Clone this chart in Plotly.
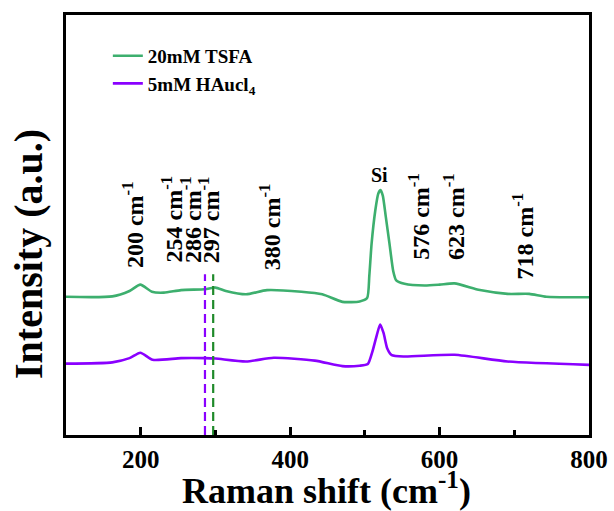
import plotly.graph_objects as go

# ---- data ----
wn_tsfa = [100, 162, 185, 199.5, 215, 231, 254, 286, 300, 314, 341, 369, 415, 443, 470, 493,
           503, 506, 509, 514, 518, 521, 524, 528, 533, 538, 542, 553, 580, 600, 620, 654,
           691, 720, 743, 800]
int_tsfa = [32.9, 33.0, 34.3, 35.8, 34.1, 33.9, 34.5, 34.7, 35.1, 34.3, 33.5, 34.5, 34.1, 33.5, 31.7, 31.8,
            32.6, 38.0, 45.5, 53.5, 57.5, 58.3, 57.0, 52.0, 45.5, 39.0, 36.8, 36.0, 35.6, 35.8, 36.1, 34.5,
            33.6, 33.6, 32.9, 32.8]

wn_hau = [100, 162, 185, 199.5, 216, 254, 286, 300, 341, 378, 433, 470, 493, 504, 510, 516,
          520.5, 525, 530, 536, 553, 620, 691, 800]
int_hau = [17.0, 17.3, 18.3, 19.6, 17.9, 18.3, 18.3, 18.2, 17.5, 18.4, 17.7, 16.4, 16.5, 16.9, 19.8, 23.8,
           26.3, 24.3, 20.6, 19.0, 18.7, 19.1, 17.5, 16.7]

series_names = ["20mM TSFA", "5mM HAucl<sub>4</sub>"]
series_colors = ["#3DAF6E", "#8A00FF"]

ref_lines_wn = [286, 297]
ref_lines_colors = ["#8A00FF", "#1F8A2A"]
ref_line_top = 38.3

peak_labels = ["200 cm<sup>-1</sup>", "254 cm<sup>-1</sup>", "286 cm<sup>-1</sup>", "297 cm<sup>-1</sup>",
               "380 cm<sup>-1</sup>", "576 cm<sup>-1</sup>", "623 cm<sup>-1</sup>", "718 cm<sup>-1</sup>"]
peak_label_x = [190.5, 242, 268, 292.5, 372.5, 573, 620, 712]
peak_label_base = [39.3, 40.5, 40.5, 40.5, 38.8, 41.2, 41.2, 36.5]

si_label = "Si"
si_x = 520
si_y = 61.9

x_title = "Raman shift (cm<sup>-1</sup>)"
y_title = "Intensity (a.u.)"

x_ticks = [200, 400, 600, 800]
x_minor_ticks = [300, 500, 700]
x_range = [100, 800]
y_range = [0, 100]

FONT = "Liberation Serif, Times New Roman, serif"

fig = go.Figure()

fig.add_trace(go.Scatter(x=wn_tsfa, y=int_tsfa, mode="lines", name=series_names[0],
                         line=dict(color=series_colors[0], width=2.6, shape="spline", smoothing=0.6)))
fig.add_trace(go.Scatter(x=wn_hau, y=int_hau, mode="lines", name=series_names[1],
                         line=dict(color=series_colors[1], width=2.6, shape="spline", smoothing=0.6)))

for xv, col in zip(ref_lines_wn, ref_lines_colors):
    fig.add_trace(go.Scatter(x=[xv, xv], y=[y_range[0], ref_line_top], mode="lines", showlegend=False,
                             hoverinfo="skip", line=dict(color=col, width=2.2, dash="9px,5px")))

for txt, xv, yv in zip(peak_labels, peak_label_x, peak_label_base):
    fig.add_annotation(x=xv, y=yv, xref="x", yref="y", text="<b>" + txt + "</b>", showarrow=False,
                       textangle=-90, xanchor="center", yanchor="bottom",
                       font=dict(family=FONT, size=24, color="black"))

fig.add_annotation(x=si_x, y=si_y, xref="x", yref="y", text="<b>" + si_label + "</b>", showarrow=False,
                   xanchor="center", yanchor="middle", font=dict(family=FONT, size=20, color="black"))

# axis titles
fig.add_annotation(x=0.499, y=-0.128, xref="paper", yref="paper", text="<b>" + x_title + "</b>",
                   showarrow=False, xanchor="center", yanchor="middle",
                   font=dict(family=FONT, size=36, color="black"))
fig.add_annotation(x=-0.0716, y=0.43, xref="paper", yref="paper", text="<b>" + y_title + "</b>",
                   showarrow=False, xanchor="center", yanchor="middle", textangle=-90,
                   font=dict(family=FONT, size=40, color="black"))

fig.update_layout(
    width=614, height=511,
    margin=dict(l=65.5, r=24.5, t=15, b=76, autoexpand=False),
    paper_bgcolor="white", plot_bgcolor="white",
    font=dict(family=FONT, color="black"),
    showlegend=True,
    legend=dict(x=0.08, y=0.948, xanchor="left", yanchor="top", bgcolor="rgba(0,0,0,0)",
                font=dict(family=FONT, size=19, color="black", weight="bold"),
                tracegroupgap=0, itemwidth=30),
)

fig.update_xaxes(range=x_range, tickvals=x_ticks, ticks="inside", ticklen=8, tickwidth=2.5,
                 tickcolor="black", showline=True, linecolor="black", linewidth=2.5, mirror=True,
                 showgrid=False, zeroline=False, automargin=False,
                 tickfont=dict(family=FONT, size=25, color="black", weight="bold"),
                 minor=dict(tickvals=x_minor_ticks, ticks="inside", ticklen=5, tickwidth=2.5,
                            tickcolor="black"))

fig.update_yaxes(range=y_range, showticklabels=False, ticks="", showline=True, linecolor="black",
                 linewidth=2.5, mirror=True, showgrid=False, zeroline=False, automargin=False)

fig.write_html("out.html", config={"displayModeBar": False},
               post_script="document.body.style.margin='0';document.body.style.overflow='hidden';")
